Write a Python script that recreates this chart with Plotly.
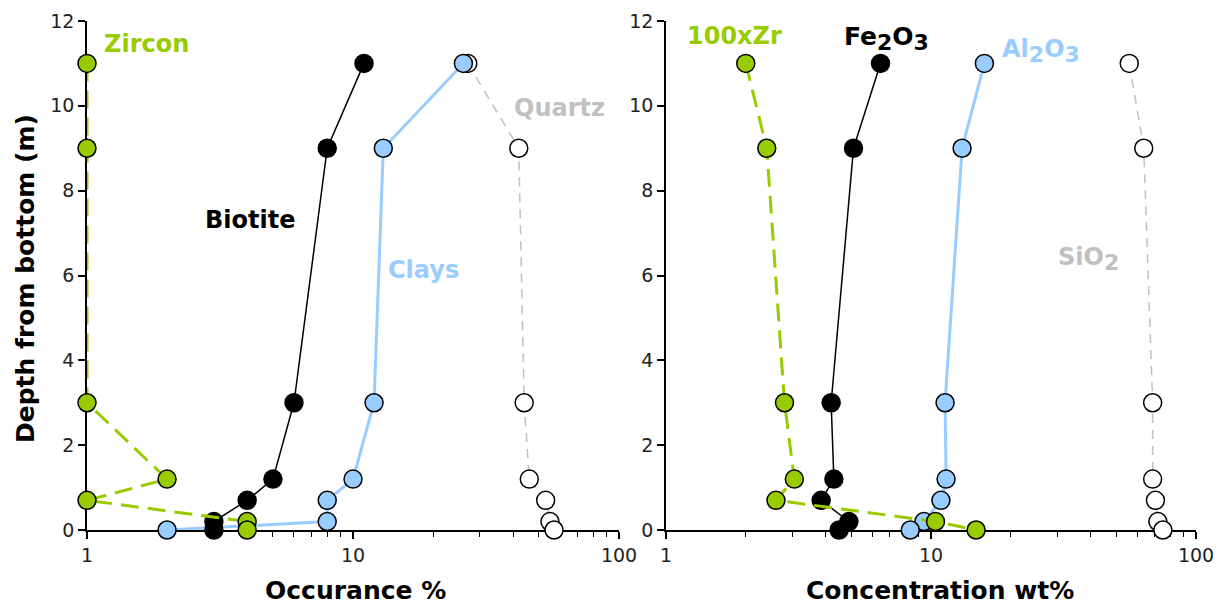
import plotly.graph_objects as go

# ---- data ----
depth = [11, 9, 3, 1.2, 0.7, 0.2, 0]

# left panel: mineral occurrence (%)
zircon = [1, 1, 1, 2, 1, 4, 4]
biotite = [11, 8, 6, 5, 4, 3, 3]
clays = [26, 13, 12, 10, 8, 8, 2]
quartz = [27, 42, 44, 46, 53, 55, 57]

# right panel: concentration (wt%)
zr100 = [2.0, 2.4, 2.8, 3.05, 2.6, 10.4, 14.8]
fe2o3 = [6.45, 5.1, 4.2, 4.3, 3.85, 4.9, 4.5]
al2o3 = [15.9, 13.1, 11.3, 11.4, 10.9, 9.4, 8.35]
sio2 = [56, 63.5, 68.6, 68.6, 70.3, 71.8, 75]

x_tick_vals = [1, 10, 100]
x_tick_text = ["1", "10", "100"]
y_tick_vals = [0, 2, 4, 6, 8, 10, 12]

GREEN = "#99cc00"
BLUE = "#99ccff"
GREY = "#c0c0c0"
FONT = "DejaVu Sans, Verdana, sans-serif"

styles = {
    "green": dict(line=dict(color=GREEN, width=3, dash="18px,9px"), fill=GREEN),
    "black": dict(line=dict(color="black", width=1.5), fill="black"),
    "blue": dict(line=dict(color=BLUE, width=3), fill=BLUE),
    "white": dict(line=dict(color=GREY, width=1.5, dash="9px,7px"), fill="white"),
}

fig = go.Figure()


def add(xs, style, xa, ya, name):
    s = styles[style]
    fig.add_trace(go.Scatter(
        x=xs, y=depth, mode="lines+markers", name=name,
        line=s["line"],
        marker=dict(size=18, color=s["fill"], line=dict(color="black", width=1.5)),
        xaxis=xa, yaxis=ya, cliponaxis=False, showlegend=False,
    ))


# left
add(quartz, "white", "x", "y", "Quartz")
add(clays, "blue", "x", "y", "Clays")
add(biotite, "black", "x", "y", "Biotite")
add(zircon, "green", "x", "y", "Zircon")
# right
add(sio2, "white", "x2", "y2", "SiO2")
add(al2o3, "blue", "x2", "y2", "Al2O3")
add(fe2o3, "black", "x2", "y2", "Fe2O3")
add(zr100, "green", "x2", "y2", "100xZr")

# the page places the figure 8px from the top-left corner (default body margin)
OFF = 8
W, H = 1221 - OFF, 606 - OFF
plot_left, plot_right, plot_top, plot_bottom = 87, 1196, 21, 530
L = plot_left - OFF
R = W - (plot_right - OFF)
T = plot_top - OFF
B = H - (plot_bottom - OFF)
pw = W - L - R
ph = H - T - B
left_end = (619 - plot_left) / pw
right_start = (666 - plot_left) / pw

xcommon = dict(
    type="log", range=[0, 2], showgrid=False, zeroline=False,
    showline=True, linecolor="black", linewidth=1.5,
    ticks="outside", ticklen=7, tickwidth=1.5, tickcolor="black",
    tickvals=x_tick_vals, ticktext=x_tick_text,
    tickfont=dict(family=FONT, size=19, color="#222"),
    minor=dict(ticks="outside", ticklen=5, tickwidth=1.2, tickcolor="black",
               tickvals=[2, 3, 4, 5, 6, 7, 8, 9, 20, 30, 40, 50, 60, 70, 80, 90]),
    layer="below traces", automargin=False,
)
ycommon = dict(
    range=[0, 12], tickvals=y_tick_vals, showgrid=False, zeroline=False,
    showline=True, linecolor="black", linewidth=1.5,
    ticks="outside", ticklen=7, tickwidth=1.5, tickcolor="black",
    tickfont=dict(family=FONT, size=19, color="#222"),
    layer="below traces", automargin=False,
)

fig.update_layout(
    width=W, height=H,
    margin=dict(l=L, r=R, t=T, b=B, autoexpand=False),
    paper_bgcolor="white", plot_bgcolor="white",
    xaxis=dict(xcommon, domain=[0, left_end], anchor="y"),
    xaxis2=dict(xcommon, domain=[right_start, 1], anchor="y2"),
    yaxis=dict(ycommon, domain=[0, 1], anchor="x"),
    yaxis2=dict(ycommon, domain=[0, 1], anchor="x2"),
)


def px_to_paper(px, py):
    # px, py are page pixel positions (as seen in the screenshot)
    return (px - plot_left) / pw, (plot_bottom - py) / ph


def sub(ch, size):
    return f"<sub><span style='font-size:{size}px'>{ch}</span></sub>"


labels = [
    ("<b>Zircon</b>", 146, 44, GREEN, 24),
    ("<b>Biotite</b>", 250, 220, "black", 24),
    ("<b>Clays</b>", 423, 270, BLUE, 24),
    ("<b>Quartz</b>", 559, 108, GREY, 24),
    ("<b>100xZr</b>", 734, 36, GREEN, 24),
    ("<b>Fe" + sub("2", 22) + "O" + sub("3", 22) + "</b>", 886, 38, "black", 25),
    ("<b>Al" + sub("2", 22) + "O" + sub("3", 22) + "</b>", 1041, 51, BLUE, 24),
    ("<b>SiO" + sub("2", 22) + "</b>", 1088, 259, GREY, 24),
    # axis titles
    ("<b>Occurance %</b>", 355, 590, "black", 25),
    ("<b>Concentration wt%</b>", 940, 590, "black", 25),
]
for text, px, py, col, size in labels:
    xp, yp = px_to_paper(px, py)
    fig.add_annotation(text=text, x=xp, y=yp, xref="paper", yref="paper",
                       xanchor="center", yanchor="middle", showarrow=False,
                       font=dict(family=FONT, size=size, color=col))

xp, yp = px_to_paper(25, 279)
fig.add_annotation(text="<b>Depth from bottom (m)</b>", x=xp, y=yp, xref="paper", yref="paper",
                   xanchor="center", yanchor="middle", showarrow=False, textangle=-90,
                   font=dict(family=FONT, size=25, color="black"))

fig.write_html("out.html")
